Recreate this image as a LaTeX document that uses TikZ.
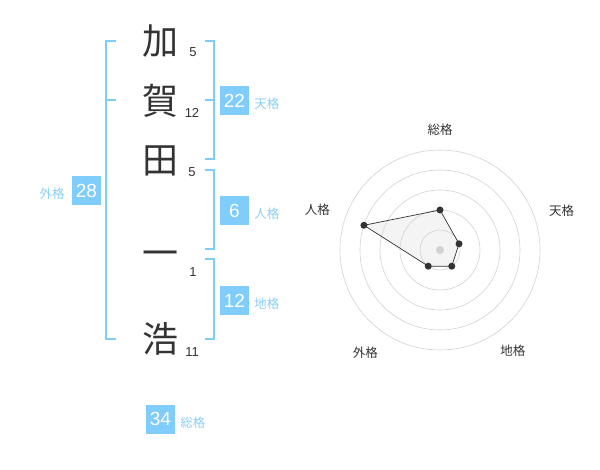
\documentclass[tikz,border=0pt]{standalone}
\usepackage{fontspec}
\setmainfont{Liberation Sans}
\newfontfamily\jpfont{Noto Sans CJK JP}
\usepackage{tikz}
\usetikzlibrary{positioning}
\definecolor{kakublue}{RGB}{128,204,250}
\definecolor{kakutext}{RGB}{138,206,246}
\definecolor{inkgray}{RGB}{51,51,51}
\definecolor{ringgray}{RGB}{210,210,210}

\begin{document}
\begin{tikzpicture}[x=1pt,y=-1pt,
  kanji/.style={font=\jpfont\fontsize{36}{36}\selectfont,text=inkgray,inner sep=0pt},
  strokes/.style={font=\fontsize{13}{13}\selectfont,text=inkgray,inner sep=0pt},
  kaku/.style={fill=kakublue,text=white,minimum size=29pt,inner sep=0pt,font=\fontsize{19}{19}\selectfont},
  kakuname/.style={font=\jpfont\fontsize{12.5}{12.5}\selectfont,text=kakutext,inner sep=0pt},
  bracket/.style={draw=kakublue,line width=2pt},
  axisname/.style={font=\jpfont\fontsize{12.5}{12.5}\selectfont,text=inkgray,inner sep=0pt}]
%\draw[help lines](0,0)grid(600,470);
\useasboundingbox (0,0) rectangle (600,470);
% name
\node[kanji] (ka) at (160,41) {加};
\node[kanji] (ga) at (160,101) {賀};
\node[kanji] (ta) at (160,161) {田};
\node[kanji] (ichi) at (160,259) {一};
\node[kanji] (hiro) at (160,339) {浩};
\node[strokes] (s1) at (193,52) {5};
\node[strokes] (s2) at (192,113) {12};
\node[strokes] (s3) at (192,172) {5};
\node[strokes] (s4) at (193,272) {1};
\node[strokes] (s5) at (192,352) {11};
% brackets
\draw[bracket] (116,40.7)--(106,40.7)--(106,339.3)--(116,339.3) (106,100.5)--(116,100.5);
\draw[bracket] (205,40.7)--(214.3,40.7)--(214.3,159.3)--(205,159.3) (205,100.5)--(214.3,100.5);
\draw[bracket] (205,170)--(214.3,170)--(214.3,249.3)--(205,249.3);
\draw[bracket] (205,259.3)--(214.3,259.3)--(214.3,339.3)--(205,339.3);
% kaku
\node[kaku] (gai) at (86.5,190.5) {28};
\node[kaku] (ten) at (234.5,100.5) {22};
\node[kaku] (jin) at (234.5,210.5) {6};
\node[kaku] (chi) at (234.5,300.5) {12};
\node[kaku] (sou) at (160.5,419) {34};
\node[kakuname,left=7pt of gai,yshift=-3.5pt] (gainame) {外格};
\node[kakuname,right=5pt of ten,yshift=-3.5pt] (tenname) {天格};
\node[kakuname,right=5pt of jin,yshift=-3.5pt] (jinname) {人格};
\node[kakuname,right=5pt of chi,yshift=-3.5pt] (chiname) {地格};
\node[kakuname,right=5pt of sou,yshift=-3.5pt] (souname) {総格};
% radar
\begin{scope}[shift={(440,250)},y=1pt]
\fill[gray!9] (90:40)--(18:20)--(-54:20)--(-126:20)--(162:80)--cycle;
\foreach \r in {20,40,...,100}
  \draw[ringgray,line width=0.6pt] (0,0) circle [radius=\r];
\foreach \a/\lab/\r in {90/総格/120,18/天格/128,-54/地格/124,-126/外格/127,162/人格/129}
  \node[axisname] at (\a:\r) {\lab};
\draw[inkgray,line width=0.7pt] (90:40)--(18:20)--(-54:20)--(-126:20)--(162:80)--cycle;
\fill[ringgray] (0,0) circle [radius=4];
\foreach \a/\r in {90/40,18/20,-54/20,-126/20,162/80}
  \fill[inkgray] (\a:\r) circle [radius=3.5];
\end{scope}
\end{tikzpicture}
\end{document}
